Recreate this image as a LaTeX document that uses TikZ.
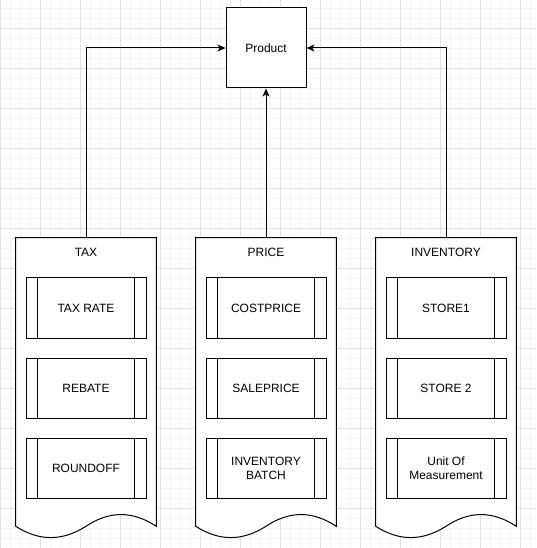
\documentclass[tikz,border=0pt]{standalone}
\usepackage{fontspec}
\setmainfont{Liberation Sans}
\usetikzlibrary{arrows.meta,calc}
\begin{document}
\begin{tikzpicture}[x=0.75pt,y=-0.75pt,
  font=\fontsize{9pt}{10.7pt}\selectfont,
  minorgrid/.style={draw=gray!7, line width=0.75pt},
  majorgrid/.style={draw=gray!22, line width=0.75pt},
  prodbox/.style={draw, fill=white, line width=0.75pt, minimum width=60pt, minimum height=60pt, inner sep=0pt},
  procbox/.style={draw, fill=white, line width=0.75pt, minimum width=90pt, minimum height=45pt, align=center, inner sep=0pt,
    path picture={\draw[line width=0.75pt]
      ([xshift=8.7pt]path picture bounding box.north west) -- ([xshift=8.7pt]path picture bounding box.south west)
      ([xshift=-8.7pt]path picture bounding box.north east) -- ([xshift=-8.7pt]path picture bounding box.south east);}},
  container/.style={minimum width=105pt, minimum height=216pt, inner sep=0pt},
  docline/.style={draw, fill=white, line width=0.75pt},
  title/.style={inner sep=0pt},
  conn/.style={line width=0.75pt, -{Stealth[length=6pt,width=5.2pt,inset=1.6pt]}},
]
\useasboundingbox (0,0) rectangle (536,548);
% grid
\fill[white] (0,0) rectangle (536,548);
\foreach \i in {0,...,53} {\draw[minorgrid] (10*\i,0) -- (10*\i,548);}
\foreach \i in {0,...,54} {\draw[minorgrid] (0,8.3+10*\i) -- (536,8.3+10*\i);}
\foreach \i in {0,...,13} {\draw[majorgrid] (40*\i,0) -- (40*\i,548);}
\foreach \i in {0,...,13} {\draw[majorgrid] (0,28.3+40*\i) -- (536,28.3+40*\i);}

% containers (invisible frames)
\node[container] (tax) at (86,382) {};
\node[container] (price) at (266,382) {};
\node[container] (inv) at (446,382) {};
\foreach \c in {tax,price,inv} {
  \path[docline] (\c.south east) -- (\c.north east) -- (\c.north west) -- (\c.south west)
    .. controls ($(\c.south west)+(23.33,15.07)$) and ($(\c.south west)+(46.67,15.07)$) .. (\c.south)
    .. controls ($(\c.south)+(23.33,-15.6)$) and ($(\c.south)+(46.67,-15.6)$) .. (\c.south east) -- cycle;
}

% titles
\node[title] (taxtitle) at (86,252.5) {TAX};
\node[title] (pricetitle) at (266,252.5) {PRICE};
\node[title] (invtitle) at (446,252.5) {INVENTORY};

% inner boxes
\node[procbox] (taxrate) at (86,308) {TAX RATE};
\node[procbox] (rebate) at (86,388) {REBATE};
\node[procbox] (roundoff) at (86,468) {ROUNDOFF};
\node[procbox] (cost) at (266,308) {COSTPRICE};
\node[procbox] (sale) at (266,388) {SALEPRICE};
\node[procbox] (batch) at (266,468) {INVENTORY\\BATCH};
\node[procbox] (store1) at (446,308) {STORE1};
\node[procbox] (store2) at (446,388) {STORE 2};
\node[procbox] (uom) at (446,468) {Unit Of\\Measurement};

% product
\node[prodbox] (product) at (266,48) {Product};

% connectors
\draw[conn] (tax.north) |- (product.west);
\draw[conn] (price.north) -- (product.south);
\draw[conn] (inv.north) |- (product.east);
\end{tikzpicture}
\end{document}
